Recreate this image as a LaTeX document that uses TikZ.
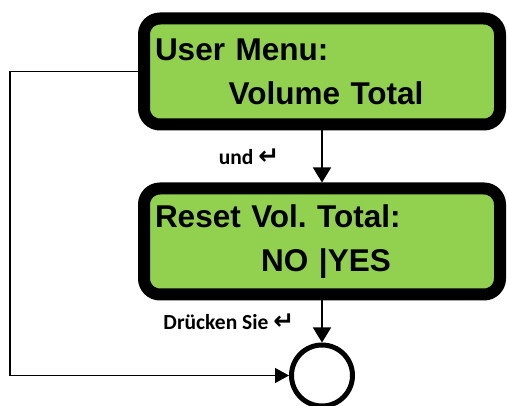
\documentclass[tikz,border=0pt]{standalone}
\usepackage{fontspec}
\setmainfont{Liberation Sans}
\newfontfamily\lblfont{Carlito}
\newfontfamily\symfont{DejaVu Sans}
\usetikzlibrary{positioning,arrows.meta}
\definecolor{lcdgreen}{HTML}{92D050}

\begin{document}
\begin{tikzpicture}[x=1pt,y=-1pt,
  lcd/.style={draw,line width=12pt,rounded corners=16pt,fill=lcdgreen,minimum width=356pt,
  minimum height=106pt,text width=334pt,inner xsep=11pt,align=left,
  font=\fontsize{31.5}{44}\selectfont\bfseries},
  lbl/.style={font=\fontsize{21.5}{24}\selectfont\lblfont\bfseries,inner sep=2pt},
  flow/.style={line width=1.5pt,-{Triangle[length=15pt,width=18pt]}},
  node distance=52pt]
\newcommand\entersym{{\fontsize{25}{24}\selectfont\symfont ↵}}
\useasboundingbox (0,0) rectangle (507,406);
\node[lcd] (menu) at (322,71.5) {User Menu:\\\makebox[\linewidth][c]{\hspace{8pt}Volume Total}};
\node[lcd,below=52pt of menu] (reset) {Reset Vol.\ Total:\\\makebox[\linewidth][c]{\hspace{8pt}NO |YES}};
\node[circle,draw,line width=5pt,minimum size=61pt,inner sep=0pt,below=42pt of reset] (done) {};
\coordinate[left=128pt of menu.west] (back);
\draw[flow] (menu) -- node[lbl,left=40pt] {und \entersym} (reset);
\draw[flow] (reset) -- node[lbl,left=25pt] {Drücken Sie \entersym} (done);
\draw[line width=1.3pt,-{Triangle[length=14pt,width=15pt]}] (menu.west) -- (back) |- (done.west);
\end{tikzpicture}
\end{document}
